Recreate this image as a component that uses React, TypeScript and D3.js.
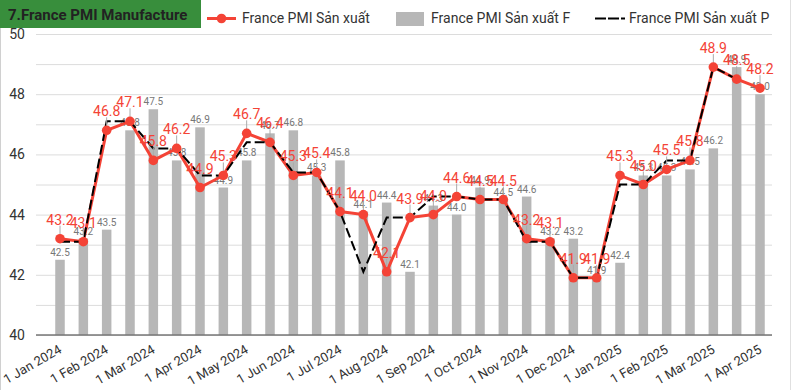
import React, { Component } from 'react';
import * as d3 from 'd3';

// two readings per month, the x axis is evenly spaced (not a real time scale)
const dates = [
	'2024-01-01', '2024-01-16', '2024-02-01', '2024-02-16', '2024-03-01', '2024-03-16',
	'2024-04-01', '2024-04-16', '2024-05-01', '2024-05-16', '2024-06-01', '2024-06-16',
	'2024-07-01', '2024-07-16', '2024-08-01', '2024-08-16', '2024-09-01', '2024-09-16',
	'2024-10-01', '2024-10-16', '2024-11-01', '2024-11-16', '2024-12-01', '2024-12-16',
	'2025-01-01', '2025-01-16', '2025-02-01', '2025-02-16', '2025-03-01', '2025-03-16',
	'2025-04-01'
];

const pmi = [
	43.2, 43.1, 46.8, 47.1, 45.8, 46.2, 44.9, 45.3, 46.7, 46.4, 45.3, 45.4, 44.1, 44.0, 42.1, 43.9,
	44.0, 44.6, 44.5, 44.5, 43.2, 43.1, 41.9, 41.9, 45.3, 45.0, 45.5, 45.8, 48.9, 48.5, 48.2
];

const pmiF = [
	42.5, 43.2, 43.5, 46.8, 47.5, 45.8, 46.9, 44.9, 45.8, 46.7, 46.8, 45.3, 45.8, 44.1, 44.4, 42.1,
	44.3, 44.0, 44.9, 44.5, 44.6, 43.2, 43.2, 41.9, 42.4, 45.3, 45.3, 45.5, 46.2, 48.9, 48.0
];

const pmiP = [
	43.1, 43.1, 47.1, 47.1, 46.2, 46.2, 45.3, 45.3, 46.4, 46.4, 45.4, 45.4, 44.1, 42.1, 43.9, 43.9,
	44.6, 44.6, 44.5, 44.5, 43.1, 43.1, 41.9, 41.9, 45.0, 45.0, 45.8, 45.8, 48.9, 48.5, null
];

const monthTicks = [
	'2024-01-01', '2024-02-01', '2024-03-01', '2024-04-01', '2024-05-01', '2024-06-01',
	'2024-07-01', '2024-08-01', '2024-09-01', '2024-10-01', '2024-11-01', '2024-12-01',
	'2025-01-01', '2025-02-01', '2025-03-01', '2025-04-01'
];

const gridValues = [40, 41, 42, 43, 44, 45, 46, 47, 48, 49, 50];
const yLabels = [40, 42, 44, 46, 48, 50];

const RED = '#f44336';
const GREY = '#b7b7b7';
const FONT = 'Roboto, sans-serif';

class PmiChart extends Component {
	node: SVGSVGElement | null = null;

	componentDidMount() {
		this.drawChart();
	}

	drawChart() {
		const svg = d3.select(this.node);
		svg.selectAll('*').remove();

		const left = 36, right = 772, bottom = 335, top = 34;

		const x = d3.scalePoint<string>().domain(dates).range([60, 760]);
		const y = d3.scaleLinear().domain([40, 50]).range([bottom, top]);

		svg.append('rect').attr('width', 795).attr('height', 390).attr('fill', '#fff');
		// card border
		svg.append('line').attr('x1', 0.5).attr('x2', 0.5).attr('y1', 0).attr('y2', 390)
			.attr('stroke', '#d0d0d0');
		svg.append('line').attr('x1', 790.5).attr('x2', 790.5).attr('y1', 0).attr('y2', 390)
			.attr('stroke', '#e0e0e0');

		// y axis + grid
		const yAxis = d3.axisLeft(y)
			.tickValues(gridValues)
			.tickSize(-(right - left))
			.tickPadding(11)
			.tickFormat((d: any) => (yLabels.indexOf(d) >= 0 ? String(d) : ''));

		const gy = svg.append('g').attr('transform', 'translate(' + left + ',0)').call(yAxis);
		gy.select('.domain').remove();
		gy.selectAll('line').attr('stroke', '#dcdcdc');
		gy.selectAll('text').attr('font-family', FONT).attr('font-size', 14).attr('fill', '#333');

		// bars (F)
		svg.append('g').selectAll('rect')
			.data(pmiF)
			.enter()
			.append('rect')
			.attr('x', (d, i) => x(dates[i])! - 4.75)
			.attr('width', 9.5)
			.attr('y', d => y(d))
			.attr('height', d => bottom - y(d))
			.attr('fill', GREY);

		svg.append('g').selectAll('text')
			.data(pmiF)
			.enter()
			.append('text')
			.attr('x', (d, i) => x(dates[i])!)
			.attr('y', d => y(d) - 4)
			.attr('text-anchor', 'middle')
			.attr('font-family', FONT)
			.attr('font-size', 10)
			.attr('fill', '#777')
			.text(d => d.toFixed(1));

		// baseline
		svg.append('line').attr('x1', left).attr('x2', right).attr('y1', bottom).attr('y2', bottom)
			.attr('stroke', '#777').attr('stroke-width', 1.5);

		// x axis
		const parse = d3.timeParse('%Y-%m-%d');
		const fmt = d3.timeFormat('%-d %b %Y');
		const xAxis = d3.axisBottom(x)
			.tickValues(monthTicks)
			.tickSize(0)
			.tickFormat((d: string) => fmt(parse(d)!));
		const gx = svg.append('g').attr('transform', 'translate(0,' + bottom + ')').call(xAxis);
		gx.select('.domain').remove();
		gx.selectAll('text')
			.attr('x', 0).attr('y', 0).attr('dy', null)
			.attr('text-anchor', 'end')
			.attr('transform', 'translate(2,17) rotate(-30)')
			.attr('font-family', FONT).attr('font-size', 13).attr('fill', '#333');

		// lines
		const line = d3.line<number | null>()
			.defined(d => d != null)
			.x((d, i) => x(dates[i])!)
			.y(d => y(d as number));

		svg.append('path')
			.datum(pmi)
			.attr('d', line)
			.attr('fill', 'none')
			.attr('stroke', RED)
			.attr('stroke-width', 3);

		svg.append('path')
			.datum(pmiP)
			.attr('d', line)
			.attr('fill', 'none')
			.attr('stroke', '#000')
			.attr('stroke-width', 2)
			.attr('stroke-dasharray', '10,4');

		// leaders + dots
		svg.append('g').selectAll('line')
			.data(pmi)
			.enter()
			.append('line')
			.attr('x1', (d, i) => x(dates[i])!)
			.attr('x2', (d, i) => x(dates[i])!)
			.attr('y1', d => y(d) - 13)
			.attr('y2', d => y(d) - 3)
			.attr('stroke', '#aaa')
			.attr('stroke-width', 1);

		svg.append('g').selectAll('circle')
			.data(pmi)
			.enter()
			.append('circle')
			.attr('cx', (d, i) => x(dates[i])!)
			.attr('cy', d => y(d))
			.attr('r', 4.8)
			.attr('fill', RED);

		svg.append('g').selectAll('text')
			.data(pmi)
			.enter()
			.append('text')
			.attr('x', (d, i) => x(dates[i])!)
			.attr('y', d => y(d) - 14)
			.attr('text-anchor', 'middle')
			.attr('font-family', FONT)
			.attr('font-size', 14)
			.attr('fill', RED)
			.text(d => d.toFixed(1));

		// title
		svg.append('rect').attr('x', 0).attr('y', 0).attr('width', 201).attr('height', 28).attr('fill', '#388e3c');
		svg.append('text').attr('x', 8).attr('y', 20)
			.attr('font-family', FONT).attr('font-weight', 'bold').attr('font-size', 15).attr('fill', '#222')
			.text('7.France PMI Manufacture');

		// legend
		const lg = svg.append('g').attr('font-family', FONT).attr('font-size', 14).attr('fill', '#333');
		lg.append('line').attr('x1', 207).attr('x2', 236).attr('y1', 18.5).attr('y2', 18.5)
			.attr('stroke', RED).attr('stroke-width', 3);
		lg.append('circle').attr('cx', 221.5).attr('cy', 18.5).attr('r', 4.8).attr('fill', RED);
		lg.append('text').attr('x', 242).attr('y', 23).text('France PMI Sản xuất');

		lg.append('rect').attr('x', 396).attr('y', 12).attr('width', 28).attr('height', 14).attr('fill', GREY);
		lg.append('text').attr('x', 431).attr('y', 23).text('France PMI Sản xuất F');

		lg.append('line').attr('x1', 595).attr('x2', 625).attr('y1', 18.5).attr('y2', 18.5)
			.attr('stroke', '#000').attr('stroke-width', 2).attr('stroke-dasharray', '11,2');
		lg.append('text').attr('x', 629).attr('y', 23).text('France PMI Sản xuất P');
	}

	render() {
		return (
			<svg
				ref={n => { this.node = n; }}
				width={795}
				height={390}
				style={{ position: 'absolute', left: 0, top: 0, display: 'block' }}
			/>
		);
	}
}

export default function App() {
	return <PmiChart />;
}
